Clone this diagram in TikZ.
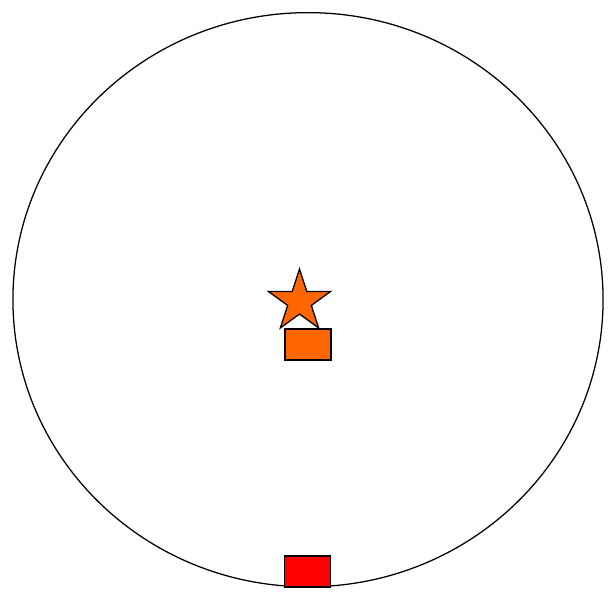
\documentclass[tikz,border=0pt]{standalone}
\usetikzlibrary{shapes.geometric}
\definecolor{markorange}{HTML}{FF6600}
\definecolor{markred}{HTML}{FF0000}

\begin{document}
\begin{tikzpicture}[x=0.025cm,y=-0.025cm,line width=0.9pt]
  \tikzset{box/.style={draw,rectangle,inner sep=0pt,minimum width=1.15cm,minimum height=0.775cm}}
  \useasboundingbox (0,0) rectangle (608,594);
  \node[draw,ellipse,inner sep=0pt,minimum width=14.75cm,minimum height=14.35cm] (rim) at (308,299.7) {};
  \node[draw,star,star points=5,star point ratio=2.618,inner sep=0pt,minimum size=1.63cm,fill=markorange] (mark) at (299.5,301.6) {};
  \node[box,fill=markorange] (inner) at (308,344.5) {};
  \node[box,fill=markred] (outer) at (307.5,571.5) {};
\end{tikzpicture}
\end{document}
